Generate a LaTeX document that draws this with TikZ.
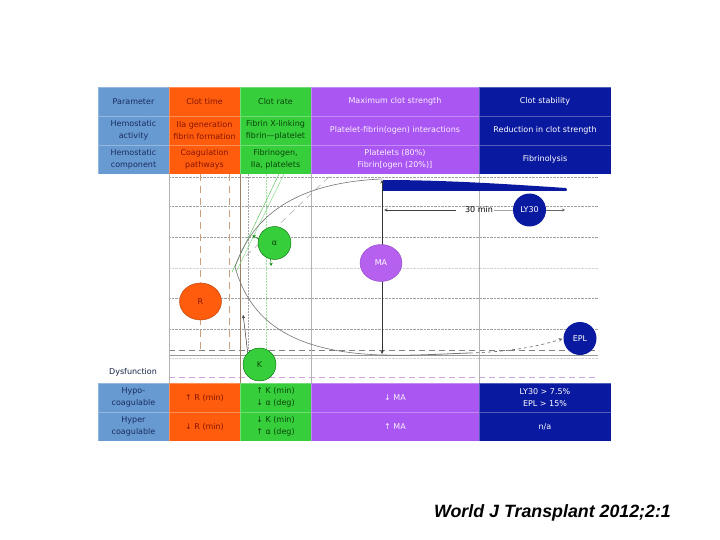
\documentclass[tikz,border=0pt]{standalone}
\usepackage{fontspec}
\setmainfont{DejaVu Sans}
\newfontfamily\capfont{Liberation Sans}
\usepackage{tikz}
\usetikzlibrary{arrows,positioning,shapes.geometric}

\definecolor{parblue}{RGB}{104,154,210}
\definecolor{partext}{RGB}{25,45,95}
\definecolor{clotorange}{RGB}{255,92,14}
\definecolor{orangetext}{RGB}{135,20,0}
\definecolor{clotgreen}{RGB}{55,206,60}
\definecolor{greentext}{RGB}{10,70,10}
\definecolor{clotpurple}{RGB}{170,86,242}
\definecolor{mapurple}{RGB}{182,96,240}
\definecolor{clotblue}{RGB}{10,26,160}
\definecolor{tan}{RGB}{205,160,125}
\definecolor{pinkdash}{RGB}{205,165,215}

\begin{document}
\begin{tikzpicture}
	[x=1pt, y=-1pt, inner sep=0pt, font=\fontsize{8}{11.5}\selectfont,
	cell/.style		= {rectangle, draw=white, draw opacity=0.3, line width=0.5pt, minimum height=29pt, align=center},
	narrow/.style	= {cell, minimum width=71pt},
	parcell/.style	= {narrow, fill=parblue, text=partext},
	timecell/.style	= {narrow, fill=clotorange, text=orangetext},
	ratecell/.style	= {narrow, fill=clotgreen, text=greentext},
	macell/.style	= {cell, minimum width=168pt, fill=clotpurple, text=white!92!clotpurple},
	lyscell/.style	= {cell, minimum width=132pt, fill=clotblue, text=white},
	bigdot/.style	= {ellipse, minimum width=42pt, minimum height=37pt},
	dot/.style		= {circle, minimum size=33pt},
	grid/.style		= {gray!75, densely dotted, line width=0.4pt},
	faint/.style	= {gray!35, densely dotted, line width=0.4pt},
	paths/.style	= {->, >=stealth, shorten >= 1pt},
	covar/.style	= {<->, >=stealth, shorten >= 1pt, shorten <= 1pt}]
	
	\useasboundingbox (0,0) rectangle (720,540);
	
	% header rows
	\node at (133.5, 101.5)	[parcell]	(p1)	{Parameter};
	\node at (204.5, 101.5)	[timecell]	(t1)	{Clot time};
	\node at (275.5, 101.5)	[ratecell]	(r1)	{Clot rate};
	\node at (395, 101.5)	[macell]	(m1)	{Maximum clot strength};
	\node at (545, 101.5)	[lyscell]	(l1)	{Clot stability};
	
	\node at (133.5, 130.5)	[parcell]	(p2)	{Hemostatic\\activity};
	\node at (204.5, 130.5)	[timecell]	(t2)	{IIa generation\\fibrin formation};
	\node at (275.5, 130.5)	[ratecell]	(r2)	{Fibrin X-linking\\fibrin---platelet};
	\node at (395, 130.5)	[macell]	(m2)	{Platelet-fibrin(ogen) interactions};
	\node at (545, 130.5)	[lyscell]	(l2)	{Reduction in clot strength};
	
	\node at (133.5, 159.5)	[parcell]	(p3)	{Hemostatic\\component};
	\node at (204.5, 159.5)	[timecell]	(t3)	{Coagulation\\pathways};
	\node at (275.5, 159.5)	[ratecell]	(r3)	{Fibrinogen,\\IIa, platelets};
	\node at (395, 159.5)	[macell]	(m3)	{Platelets (80\%)\\Fibrin[ogen (20\%)]};
	\node at (545, 159.5)	[lyscell]	(l3)	{Fibrinolysis};
	
	% plot grid
	\draw [grid] (169,177) -- (598,177);
	\draw [grid] (169,206) -- (598,206);
	\draw [grid] (169,237) -- (598,237);
	\draw [faint] (169,268) -- (598,268);
	\draw [grid] (169,298) -- (598,298);
	\draw [grid] (169,329) -- (598,329);
	\draw [faint] (169,358) -- (598,358);
	\draw [gray, dash pattern=on 6pt off 4pt, line width=0.5pt] (169,350) -- (598,350);
	\draw [gray!80, line width=0.6pt] (169,355) -- (598,355);
	\draw [pinkdash, dash pattern=on 6pt off 4pt, line width=0.6pt] (169,377) -- (598,377);
	
	\draw [gray!60, line width=0.6pt] (169,174) -- (169,383);
	\draw [gray!60, line width=0.5pt] (311,174) -- (311,383);
	\draw [gray!60, line width=0.5pt] (479,174) -- (479,383);
	\draw [tan, dash pattern=on 7pt off 5pt, line width=0.7pt] (200,174) -- (200,350);
	\draw [tan, dash pattern=on 7pt off 5pt, line width=0.7pt] (229,174) -- (229,350);
	\draw [gray!70, densely dotted, line width=0.5pt] (248,174) -- (248,350);
	\draw [green!50!gray!50, densely dotted, line width=0.5pt] (266,174) -- (266,350);
	\draw [gray!60!brown, line width=1pt] (240,174) -- (240,383);
	
	% clot curve
	\coordinate (vtx)		at (235,267);
	\coordinate (matop)		at (382,179);
	\coordinate (mabot)		at (382,355);
	\coordinate (lysend)	at (470,353);
	\coordinate (ma30)		at (383,210);
	\coordinate (ly30end)	at (566,210);
	
	\draw [green!60!black!60, line width=0.5pt] (232,272) -- (279,174);
	\draw [green!50!gray!60, line width=0.5pt] (236,272) -- (284,174);
	\draw [gray!70, dash pattern=on 7pt off 5pt, line width=0.5pt] (246,256) -- (333,173);
	
	\draw [gray!90!black, line width=0.6pt] (vtx) .. controls (250,224) and (285,183) .. (matop);
	\draw [gray!90!black, line width=0.6pt] (vtx) .. controls (250,320) and (290,352) .. (mabot);
	\draw [gray!90!black, line width=0.8pt] (mabot) .. controls (410,356) and (440,354) .. (lysend);
	\fill [clotblue] (383,180) .. controls (450,180) and (520,185) .. (566,188) -- (567,190) -- (566,191) -- (383,191) -- cycle;
	
	\draw [green!50!black, covar, line width=0.5pt] (vtx) ++(0:36) arc (0:-63:36);
	\draw [covar, black!80, line width=0.6pt] (matop) -- (mabot);
	
	% markers
	\node at (200.5, 301.5)	[bigdot, fill=clotorange, draw=clotorange!70!black, text=orangetext]	(R)		{R};
	\node at (274.5, 243)	[dot, fill=clotgreen, draw=green!40!black, text=greentext]			(alpha)	{α};
	\node at (259.5, 364.5)	[dot, fill=clotgreen, draw=green!40!black, text=greentext]			(K)		{K};
	\node at (381, 263)		[bigdot, fill=mapurple, draw=mapurple!80!black, text=white]			(MA)	{MA};
	\node at (529.5, 210)	[dot, fill=clotblue, text=white]									(LY30)	{LY30};
	\node at (580, 338.5)	[dot, fill=clotblue, text=white]									(EPL)	{EPL};
	\node at (479, 210)		[inner sep=1pt]													(min30)	{30 min};
	
	\draw [paths, black!75, line width=0.6pt, shorten <=8pt] (min30.west) -- (ma30);
	\draw [gray!70, line width=0.4pt] (min30.east) -- (LY30.west);
	\draw [paths, gray!80!black, line width=0.4pt] (LY30.east) -- (ly30end);
	\draw [paths, gray!80!black, dashed, line width=0.6pt] (lysend) .. controls (500,352) and (530,349) .. (EPL.west);
	\draw [paths, black!80, line width=0.5pt] (K.north west) -- (243,314);
	
	\node at (133, 372)		[text=partext!70!black]	(dys)	{Dysfunction};
	
	% dysfunction rows
	\node at (133.5, 397.5)	[parcell]	(p4)	{Hypo-\\coagulable};
	\node at (204.5, 397.5)	[timecell]	(t4)	{↑ R (min)};
	\node at (275.5, 397.5)	[ratecell]	(r4)	{↑ K (min)\\↓ α (deg)};
	\node at (395, 397.5)	[macell]	(m4)	{↓ MA};
	\node at (545, 397.5)	[lyscell]	(l4)	{LY30 \textgreater{} 7.5\%\\EPL \textgreater{} 15\%};
	
	\node at (133.5, 426.5)	[parcell]	(p5)	{Hyper\\coagulable};
	\node at (204.5, 426.5)	[timecell]	(t5)	{↓ R (min)};
	\node at (275.5, 426.5)	[ratecell]	(r5)	{↓ K (min)\\↑ α (deg)};
	\node at (395, 426.5)	[macell]	(m5)	{↑ MA};
	\node at (545, 426.5)	[lyscell]	(l5)	{n/a};
	
	\node at (552.5, 513)	[font=\capfont\bfseries\itshape\fontsize{17.8}{21}\selectfont]	(cite)	{World J Transplant 2012;2:1};
\end{tikzpicture}
\end{document}
